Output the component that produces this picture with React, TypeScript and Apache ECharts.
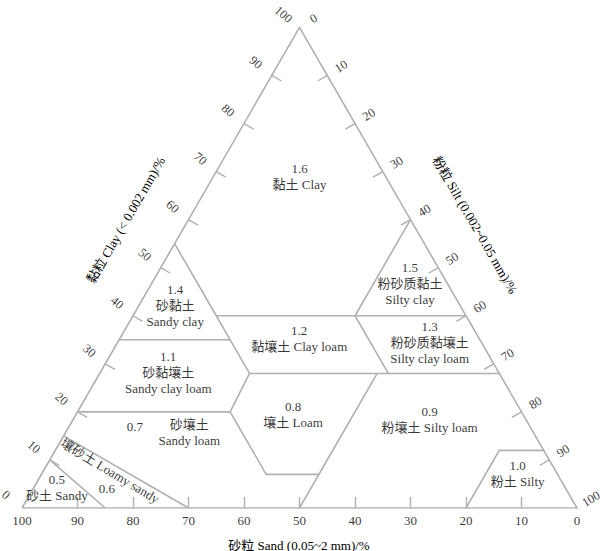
import React, { useEffect, useRef } from 'react';
import * as echarts from 'echarts';

// ---------- data ----------
const H = Math.sqrt(3) / 2;
const tickValues = [0, 10, 20, 30, 40, 50, 60, 70, 80, 90, 100];
const innerTicks = [10, 20, 30, 40, 50, 60, 70, 80, 90];

// compositions as [sand, silt, clay] (%)
const outline = [[100, 0, 0], [0, 100, 0], [0, 0, 100], [100, 0, 0]];
const boundaries = [
  [[45, 0, 55], [45, 15, 40], [45, 20, 35], [45, 27, 28]],
  [[45, 15, 40], [20, 40, 40], [0, 60, 40]],
  [[0, 40, 60], [20, 40, 40], [20, 52, 28]],
  [[65, 0, 35], [45, 20, 35]],
  [[45, 27, 28], [0, 72, 28]],
  [[80, 0, 20], [52.5, 27.5, 20], [45, 27, 28]],
  [[52.5, 27.5, 20], [52.5, 40.5, 7], [43, 50, 7]],
  [[50, 50, 0], [22, 50, 28]],
  [[20, 80, 0], [8, 80, 12], [0, 88, 12]],
  [[90, 0, 10], [85, 15, 0]],
  [[85, 0, 15], [70, 30, 0]],
];

const regionCodes = ['1.6', '1.5', '1.4', '1.3', '1.2', '1.1', '1.0', '0.9', '0.8', '0.7', '0.6', '0.5'];
const regionZh = ['黏土', '粉砂质黏土', '砂黏土', '粉砂质黏壤土', '黏壤土', '砂黏壤土', '粉土', '粉壤土', '壤土', '砂壤土', '壤砂土', '砂土'];
const regionEn = ['Clay', 'Silty clay', 'Sandy clay', 'Silty clay loam', 'Clay loam', 'Sandy clay loam', 'Silty', 'Silty loam', 'Loam', 'Sandy loam', 'Loamy sandy', 'Sandy'];
// layout: 2 = "code\nzh en", 3 = "code\nzh\nen", 's' = code separate + "zh\nen", 'r' = code separate + rotated "zh en"
const regionLayout = [2, 3, 3, 3, 2, 3, 2, 2, 2, 's', 'r', 2];
// label anchor compositions [sand, silt, clay]
const nameAt = [
  [15.5, 15.5, 69], [6.7, 46.5, 46.8], [51.3, 6.5, 42.2], [9.3, 56.2, 34.5], [32.4, 32.3, 35.3],
  [59.6, 12.3, 28.1], [7.1, 85.7, 7.2], [17.3, 64.2, 18.5], [41.4, 39.1, 19.5], [62, 22.3, 15.7],
  [80.3, 12, 7.7], [91.6, 4.2, 4.2],
];
const codeAt = [null, null, null, null, null, null, null, null, null, [71.2, 11.9, 16.9], [82.7, 13.3, 4], null];

const titleClay = '黏粒 Clay (< 0.002 mm)/%';
const titleSilt = '粉粒 Silt (0.002~0.05 mm)/%';
const titleSand = '砂粒 Sand (0.05~2 mm)/%';

// ---------- helpers ----------
const toXY = (p: number[]) => [p[1] + p[2] / 2, p[2] * H];
const PX = 5.55; // pixels per data unit
const FONT = 'Liberation Serif, Noto Sans CJK SC, serif';
const TEXT = '#000000';
const LINE = '#b0b0b0';

export default function App() {
  const ref = useRef<HTMLDivElement>(null);
  useEffect(() => {
    if (!ref.current) return;
    const chart = echarts.init(ref.current, undefined, { renderer: 'svg' });

    const lineData = [outline, ...boundaries].map((seg) => ({ coords: seg.map(toXY) }));
    const tickLen = 2;
    const tickData: any[] = [];
    innerTicks.forEach((v) => {
      const l = toXY([100 - v, 0, v]);
      tickData.push({ coords: [l, [l[0] + tickLen * H, l[1] - tickLen * 0.5]] });
      const r = toXY([0, v, 100 - v]);
      tickData.push({ coords: [r, [r[0] - tickLen * H, r[1] - tickLen * 0.5]] });
      const b = toXY([v, 100 - v, 0]);
      tickData.push({ coords: [b, [b[0], b[1] + tickLen]] });
    });

    const leftLabels = tickValues.map((v) => {
      const p = toXY([100 - v, 0, v]);
      return [p[0] - 16 / PX, p[1] + 13 / PX, v];
    });
    const rightLabels = tickValues.map((v) => {
      const p = toXY([0, v, 100 - v]);
      return [p[0] + 14 / PX, p[1] + 9 / PX, v];
    });
    const bottomLabels = tickValues.map((v) => {
      const p = toXY([v, 100 - v, 0]);
      return [p[0], p[1] - 13 / PX, v];
    });

    const nameData: any[] = [];
    const codeData: any[] = [];
    regionCodes.forEach((code, i) => {
      const p = toXY(nameAt[i]);
      const lay = regionLayout[i];
      let text = '';
      let rotate = 0;
      if (lay === 2) text = code + '\n' + regionZh[i] + ' ' + regionEn[i];
      else if (lay === 3) text = code + '\n' + regionZh[i] + '\n' + regionEn[i];
      else if (lay === 's') text = regionZh[i] + '\n' + regionEn[i];
      else { text = regionZh[i] + ' ' + regionEn[i]; rotate = -31; }
      nameData.push({ value: p, label: { formatter: text, rotate } });
      const c = codeAt[i];
      if (c) codeData.push({ value: toXY(c), label: { formatter: code } });
    });

    const txt = { fontFamily: FONT, color: TEXT };
    const scatterBase = {
      type: 'scatter',
      symbol: 'circle',
      symbolSize: 1,
      clip: false,
      silent: true,
      itemStyle: { color: 'rgba(0,0,0,0)' },
    };

    chart.setOption({
      animation: false,
      textStyle: { fontFamily: FONT },
      grid: { left: 22, right: 33, top: 27.4, bottom: 43 },
      xAxis: { type: 'value', min: 0, max: 100, show: false },
      yAxis: { type: 'value', min: 0, max: 100 * H, show: false },
      series: [
        {
          type: 'lines', coordinateSystem: 'cartesian2d', polyline: true, silent: true,
          lineStyle: { color: LINE, width: 1.6, opacity: 1, curveness: 0 },
          data: lineData,
        },
        {
          type: 'lines', coordinateSystem: 'cartesian2d', polyline: false, silent: true,
          lineStyle: { color: LINE, width: 1.4, opacity: 1, curveness: 0 },
          data: tickData,
        },
        {
          ...scatterBase, data: leftLabels,
          label: { show: true, position: 'inside', rotate: -40, fontSize: 12.5, ...txt, formatter: (p: any) => String(p.value[2]) },
        },
        {
          ...scatterBase, data: rightLabels,
          label: { show: true, position: 'inside', rotate: 32, fontSize: 12.5, ...txt, formatter: (p: any) => String(p.value[2]) },
        },
        {
          ...scatterBase, data: bottomLabels,
          label: { show: true, position: 'inside', fontSize: 13, ...txt, formatter: (p: any) => String(p.value[2]) },
        },
        {
          ...scatterBase, data: nameData,
          label: { show: true, position: 'inside', fontSize: 13, lineHeight: 16, align: 'center', ...txt },
        },
        {
          ...scatterBase, data: codeData,
          label: { show: true, position: 'inside', fontSize: 13, ...txt },
        },
      ],
      graphic: [
        {
          type: 'text', x: 126, y: 220, rotation: Math.PI / 3,
          style: { text: titleClay, font: '13px ' + FONT, fill: TEXT, textAlign: 'center', textVerticalAlign: 'middle' },
        },
        {
          type: 'text', x: 475, y: 225, rotation: -Math.PI / 3,
          style: { text: titleSilt, font: '13px ' + FONT, fill: TEXT, textAlign: 'center', textVerticalAlign: 'middle' },
        },
        {
          type: 'text', x: 299, y: 545,
          style: { text: titleSand, font: '13px ' + FONT, fill: TEXT, textAlign: 'center', textVerticalAlign: 'middle' },
        },
      ],
    });
    return () => chart.dispose();
  }, []);
  return (
    <div
      ref={ref}
      style={{ position: 'fixed', left: 0, top: 0, width: 610, height: 551, background: '#fff' }}
    />
  );
}
